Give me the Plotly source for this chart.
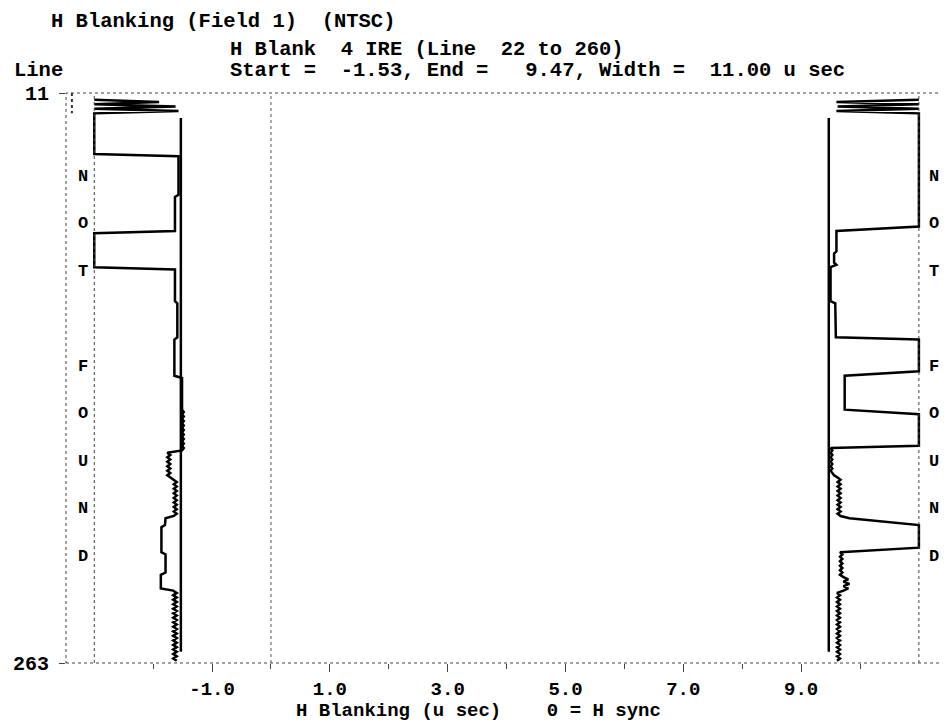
import plotly.graph_objects as go

# ---------------- data ----------------
blank_start = -1.53
blank_end = 9.47
blank_lines = [22, 258]

# measured start of H blanking per line (u sec)
start_line = [
    14, 15, 16, 17, 18, 19, 20, 38, 39, 56, 57, 72, 73, 88, 89, 103, 104, 119, 120, 136, 137, 151,
    152, 153, 154, 155, 156, 157, 158, 159, 160, 161, 162, 163, 164, 165, 166, 167, 168, 169,
    170, 171, 172, 173, 174, 175, 176, 177, 178, 179, 180, 181,
    182, 183, 184, 185, 186, 187, 188, 189, 190, 191, 192, 193, 194, 195, 196, 197, 198,
    199, 202, 203, 214, 215, 223, 224, 230,
    231, 232, 233, 234, 235, 236, 237, 238, 239, 240, 241, 242, 243, 244, 245, 246,
    247, 248, 249, 250, 251, 252, 253, 254, 255, 256, 257, 258, 259, 260, 261, 262,
]
start_us = [
    -3.00, -1.90, -3.00, -1.62, -3.00, -1.57, -3.00, -3.00, -1.57, -1.57, -1.63, -1.63, -3.00, -3.00,
    -1.63, -1.63, -1.59, -1.59, -1.64, -1.64, -1.51, -1.51,
    -1.48, -1.51, -1.48, -1.51, -1.48, -1.51, -1.48, -1.51, -1.48, -1.51, -1.48, -1.51, -1.48, -1.51,
    -1.48, -1.51, -1.48, -1.51,
    -1.76, -1.71, -1.76, -1.71, -1.76, -1.71, -1.76, -1.71, -1.76, -1.71, -1.76, -1.71,
    -1.65, -1.60, -1.65, -1.60, -1.65, -1.60, -1.65, -1.60, -1.65, -1.60, -1.65, -1.60, -1.65, -1.60,
    -1.65, -1.60, -1.65,
    -1.79, -1.80, -1.86, -1.86, -1.79, -1.79, -1.87, -1.87,
    -1.66, -1.60, -1.66, -1.60, -1.66, -1.60, -1.66, -1.60, -1.66, -1.60, -1.66, -1.60, -1.66, -1.60,
    -1.66, -1.60, -1.66, -1.60, -1.66, -1.60, -1.66, -1.60, -1.66, -1.60, -1.66, -1.60, -1.66, -1.60,
    -1.66, -1.60, -1.66, -1.60,
]

# measured end of H blanking per line (u sec)
end_line = [
    14, 15, 16, 17, 18, 19, 20, 70, 72, 81, 82, 86, 87, 88, 103, 104, 119, 120, 134, 136, 151, 153, 167,
    168, 169, 170, 171, 172, 173, 174, 175, 176, 177, 178, 179, 180,
    181, 182, 183, 184, 185, 186, 187, 188, 189, 190, 191, 192, 193, 194, 195, 196, 197, 198,
    199, 202, 212,
    214, 215, 216, 217, 218, 219, 220, 221, 222, 223, 224,
    225, 226, 227, 228, 229, 230, 231,
    232, 233, 234, 235, 236, 237, 238, 239, 240, 241, 242, 243, 244, 245, 246, 247,
    248, 249, 250, 251, 252, 253, 254, 255, 256, 257, 258, 259, 260, 261, 262,
]
end_us = [
    11.00, 9.60, 11.00, 9.62, 11.00, 9.60, 11.00, 11.00, 9.60, 9.60, 9.56, 9.56, 9.60, 9.50, 9.50,
    9.58, 9.59, 11.00, 11.00, 9.74, 9.74, 11.00, 11.00,
    9.50, 9.53, 9.50, 9.53, 9.50, 9.53, 9.50, 9.53, 9.50, 9.53, 9.50, 9.53, 9.56,
    9.62, 9.67, 9.62, 9.67, 9.62, 9.67, 9.62, 9.67, 9.62, 9.67, 9.62, 9.67, 9.62, 9.67, 9.62, 9.67,
    9.62, 9.67,
    9.82, 11.00, 11.00,
    9.66, 9.70, 9.66, 9.70, 9.66, 9.70, 9.66, 9.70, 9.66, 9.70, 9.66,
    9.72, 9.80, 9.72, 9.82, 9.72, 9.80, 9.72,
    9.61, 9.66, 9.61, 9.66, 9.61, 9.66, 9.61, 9.66, 9.61, 9.66, 9.61, 9.66, 9.61, 9.66, 9.61, 9.66,
    9.61, 9.66, 9.61, 9.66, 9.61, 9.66, 9.61, 9.66, 9.61, 9.66, 9.61, 9.66, 9.61, 9.66, 9.61,
]

marker_letters = ["N", "O", "T", "F", "O", "U", "N", "D"]
marker_lines = [48, 69, 90, 132, 153, 174, 195, 216]

x_tick_vals = [-1, 1, 3, 5, 7, 9]
x_tick_text = ["-1.0", "1.0", "3.0", "5.0", "7.0", "9.0"]
x_minor_vals = [-2, 0, 2, 4, 6, 8, 10]
y_tick_vals = [11, 263]
y_tick_text = ["11", "263"]

title_1 = "H Blanking (Field 1)  (NTSC)"
title_2 = "H Blank  4 IRE (Line  22 to 260)"
title_3 = "Start =  -1.53, End =   9.47, Width =  11.00 u sec"
y_label = "Line"
x_label = "H Blanking (u sec)    0 = H sync"

# ---------------- layout helpers ----------------
OFF = 8  # page body margin in the browser
W, H = 948 - OFF, 723 - OFF
PL, PT, PW, PH = 66 - OFF, 93 - OFF, 880, 570
FONT = "Liberation Mono, Courier New, monospace"


def nb(s):
    return s.replace(" ", "\u00a0")


def paper(xp, yp):
    # xp, yp in window pixels
    return (xp - OFF - PL) / PW, (PT + PH - (yp - OFF)) / PH


fig = go.Figure()

line_style = dict(color="black", width=2.5)
fig.add_trace(go.Scatter(x=start_us, y=start_line, mode="lines", line=line_style, hoverinfo="skip"))
fig.add_trace(go.Scatter(x=end_us, y=end_line, mode="lines", line=line_style, hoverinfo="skip"))
fig.add_trace(go.Scatter(x=[blank_start, blank_start], y=blank_lines, mode="lines", line=line_style))
fig.add_trace(go.Scatter(x=[blank_end, blank_end], y=blank_lines, mode="lines", line=line_style))

letter_font = dict(family=FONT, size=17, color="black", weight="bold")
fig.add_trace(go.Scatter(x=[-3.19] * len(marker_letters), y=marker_lines, mode="text",
                         text=marker_letters, textfont=letter_font, textposition="middle center"))
fig.add_trace(go.Scatter(x=[11.26] * len(marker_letters), y=marker_lines, mode="text",
                         text=marker_letters, textfont=letter_font, textposition="middle center"))

dot = dict(color="#444", width=1, dash="dot")
shapes = [
    dict(type="rect", xref="paper", yref="paper", x0=0, x1=1, y0=0, y1=1, line=dot),
    dict(type="line", xref="x", yref="paper", x0=-3.0, x1=-3.0, y0=0, y1=1, line=dot),
    dict(type="line", xref="x", yref="paper", x0=11.0, x1=11.0, y0=0, y1=1, line=dot),
    dict(type="line", xref="x", yref="paper", x0=0, x1=0, y0=0, y1=1,
         line=dict(color="#555", width=1, dash="dot")),
    dict(type="line", xref="x", yref="y", x0=-3.38, x1=-3.38, y0=11, y1=20,
         line=dict(color="#333", width=2, dash="dot")),
    dict(type="line", xref="x", yref="y", x0=11.42, x1=11.42, y0=11, y1=20,
         line=dict(color="#333", width=2, dash="dot")),
]

txt = dict(family=FONT, size=20.5, color="black", weight="bold")
annotations = []
for s, xp, yp in [(title_1, 49, 21), (title_2, 228, 50), (title_3, 228, 70), (y_label, 12, 70)]:
    ax, ay = paper(xp, yp)
    annotations.append(dict(text=nb(s), x=ax, y=ay, xref="paper", yref="paper",
                            xanchor="left", yanchor="middle", showarrow=False, font=txt))
ax, ay = paper(478, 723)
annotations.append(dict(text=nb(x_label), x=ax, y=ay, xref="paper", yref="paper",
                        xanchor="center", yanchor="bottom", showarrow=False, borderpad=0,
                        font=dict(family=FONT, size=19, color="black", weight="bold")))

tickfont = dict(family=FONT, size=19, color="black", weight="bold")
fig.update_layout(
    width=W, height=H,
    margin=dict(l=PL, r=W - PL - PW, t=PT, b=H - PT - PH, pad=0),
    paper_bgcolor="white", plot_bgcolor="white",
    showlegend=False,
    shapes=shapes, annotations=annotations,
    xaxis=dict(range=[-3.48, 11.46], tickmode="array", tickvals=x_tick_vals, ticktext=x_tick_text,
               ticks="outside", ticklen=8, tickwidth=1, tickcolor="#444",
               minor=dict(tickmode="array", tickvals=x_minor_vals, ticks="outside", ticklen=5,
                          tickwidth=1, tickcolor="#444", showgrid=False),
               showgrid=False, zeroline=False, showline=False, tickfont=tickfont, fixedrange=True),
    yaxis=dict(range=[263, 11], tickmode="array", tickvals=y_tick_vals, ticktext=y_tick_text,
               ticks="outside", ticklen=6, tickwidth=1, tickcolor="#444", ticklabelstandoff=6,
               showgrid=False, zeroline=False, showline=False,
               tickfont=dict(family=FONT, size=20, color="black", weight="bold"), fixedrange=True),
)

fig.write_html("out.html")
